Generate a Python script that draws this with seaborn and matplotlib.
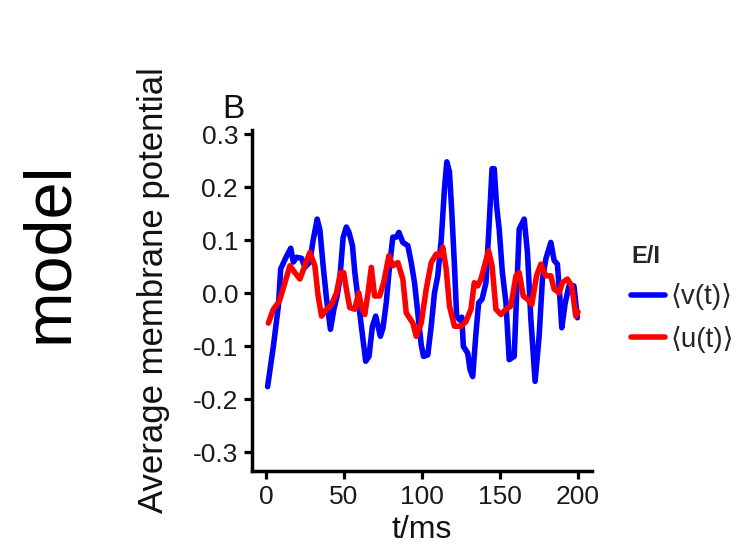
import matplotlib
matplotlib.use("Agg")
import matplotlib.pyplot as plt
import seaborn as sns
import pandas as pd

# Mean excitatory membrane potential <v(t)>
t_v = [1.0, 4.7, 7.9, 9.4, 12.8, 15.8, 17.5, 19.6, 22.8, 24.9, 28.0, 30.2, 32.8,
       34.5, 36.6, 38.8, 41.3, 43.5, 45.6, 47.3, 49.4, 51.5, 53.2, 55.4, 56.9,
       59.0, 61.1, 63.9, 66.0, 68.2, 70.3, 71.8, 73.3, 75.0, 77.1, 79.2, 81.3,
       83.5, 85.2, 87.7, 90.9, 93.1, 95.2, 97.3, 99.5, 101.0, 103.7, 105.9,
       108.0, 110.1, 112.3, 114.4, 115.9, 117.6, 119.1, 120.8, 122.2, 124.0,
       125.5, 126.5, 129.3, 130.8, 132.5, 134.6, 136.3, 138.5, 141.0, 143.1,
       144.9, 146.3, 147.8, 149.5, 151.5, 153.8, 155.9, 159.1, 162.3, 165.5,
       167.6, 169.8, 172.5, 175.1, 177.2, 179.4, 182.6, 184.7, 186.8, 188.3,
       189.6, 191.7, 194.2, 197.4, 199.6]
v_vals = [-0.176, -0.10, -0.024, 0.046, 0.068, 0.085, 0.059, 0.068, 0.066, 0.049,
          0.059, 0.10, 0.14, 0.12, 0.052, -0.011, -0.068, -0.030, -0.005, 0.027,
          0.105, 0.125, 0.115, 0.09, 0.04, -0.011, -0.062, -0.128, -0.119, -0.062,
          -0.043, -0.062, -0.081, -0.065, -0.017, 0.052, 0.106, 0.106, 0.115,
          0.096, 0.09, 0.058, 0.02, -0.037, -0.097, -0.119, -0.116, -0.062, 0.001,
          0.033, 0.10, 0.197, 0.248, 0.229, 0.153, 0.052, -0.043, -0.05, -0.045,
          -0.10, -0.113, -0.144, -0.157, -0.075, -0.018, -0.011, 0.02, 0.134,
          0.235, 0.235, 0.166, 0.12, 0.04, -0.017, -0.125, -0.119, 0.121, 0.14,
          0.077, -0.049, -0.166, -0.08, 0.027, 0.065, 0.096, 0.062, 0.055, -0.005,
          -0.065, -0.02, 0.014, 0.014, -0.046]

# Mean inhibitory membrane potential <u(t)>
t_u = [1.5, 4.7, 8.5, 12.1, 15.3, 18.5, 21.7, 24.9, 28.1, 31.3, 33.4, 35.6, 38.8,
       42.0, 45.2, 47.7, 49.8, 51.5, 53.7, 56.9, 59.4, 61.1, 63.3, 65.4, 67.5,
       69.6, 72.8, 75.4, 78.8, 81.3, 84.5, 87.7, 89.9, 94.1, 96.3, 99.5, 102.7,
       105.9, 109.1, 111.6, 113.3, 115.5, 117.6, 120.8, 125.0, 128.2, 131.4,
       133.5, 135.7, 137.8, 140.6, 142.7, 144.9, 147.4, 150.6, 153.8, 157.0,
       160.2, 162.3, 164.9, 167.6, 170.4, 173.4, 176.2, 179.4, 182.6, 184.7,
       187.9, 190.0, 193.2, 196.0, 198.6, 200.0]
u_vals = [-0.056, -0.03, -0.015, 0.02, 0.052, 0.039, 0.027, 0.052, 0.077, 0.052,
          -0.005, -0.043, -0.03, -0.021, 0.001, 0.039, 0.039, 0.008, -0.027, -0.03,
          0.001, -0.024, -0.04, 0.001, 0.049, -0.005, -0.005, 0.02, 0.071, 0.052,
          0.058, 0.027, -0.037, -0.056, -0.081, -0.056, 0.008, 0.058, 0.074, 0.071,
          0.087, 0.046, -0.024, -0.062, -0.062, -0.053, -0.03, 0.02, 0.014, 0.027,
          0.058, 0.08, 0.052, -0.03, -0.04, -0.03, -0.024, 0.033, 0.039, -0.005,
          -0.011, -0.021, 0.033, 0.055, 0.033, 0.033, 0.008, 0.001, 0.02, 0.027,
          0.014, -0.043, -0.035]

series_labels = ["\u27e8v(t)\u27e9", "\u27e8u(t)\u27e9"]
series_colors = ["#0000ff", "#ff0000"]
x_ticks = [0, 50, 100, 150, 200]
y_ticks = [-0.3, -0.2, -0.1, 0.0, 0.1, 0.2, 0.3]

df = pd.concat([
    pd.DataFrame({"t": t_v, "value": v_vals, "E/I": series_labels[0]}),
    pd.DataFrame({"t": t_u, "value": u_vals, "E/I": series_labels[1]}),
], ignore_index=True)

sns.set_theme(style="ticks")
plt.rcParams["font.family"] = ["Liberation Sans", "DejaVu Sans"]

W, H = 746, 546
fig = plt.figure(figsize=(W / 100, H / 100), dpi=100)
ax = fig.add_axes([0.3378, 0.1374, 0.4558, 0.6245])

sns.lineplot(data=df, x="t", y="value", hue="E/I", hue_order=series_labels,
             palette=dict(zip(series_labels, series_colors)), sort=False,
             estimator=None, linewidth=4.0, ax=ax)

ax.set_xlim(-9, 209)
ax.set_ylim(-0.335, 0.308)
ax.set_xticks(x_ticks)
ax.set_xticklabels([str(v) for v in x_ticks])
ax.set_yticks(y_ticks)
ax.set_yticklabels([f"{v:.1f}" for v in y_ticks])

for side in ("top", "right"):
    ax.spines[side].set_visible(False)
for side in ("left", "bottom"):
    ax.spines[side].set_linewidth(2.5)
    ax.spines[side].set_color("black")
ax.tick_params(axis="both", length=6, width=2.3, color="black",
               labelsize=19, labelcolor="#1a1a1a", pad=4)

ax.set_xlabel("t/ms", fontsize=23, color="#111111", va="top")
ax.xaxis.set_label_coords(0.5, -0.128)
ax.set_ylabel("Average membrane potential", fontsize=25, color="#111111",
              va="bottom")
ax.yaxis.set_label_coords(-0.24, 0.53)

leg = ax.legend(title="E/I", loc="upper left",
                bbox_to_anchor=(631 / W, 1 - 245 / H),
                bbox_transform=fig.transFigure, frameon=False, fontsize=20,
                handlelength=1.22, handletextpad=0.2, labelspacing=0.55,
                borderpad=0, borderaxespad=0)
leg.get_title().set_fontweight("bold")
leg.get_title().set_fontsize(17)
leg._legend_box.align = "left"
for line in leg.get_lines():
    line.set_linewidth(4.0)

fig.text(222 / W, 1 - 118 / H, "B", fontsize=24, ha="left", va="baseline",
         color="#111111")
fig.text(0.067, 0.5375, "model", fontsize=48, rotation=90, ha="center",
         va="center", color="black")

fig.savefig("out.png", dpi=100)
